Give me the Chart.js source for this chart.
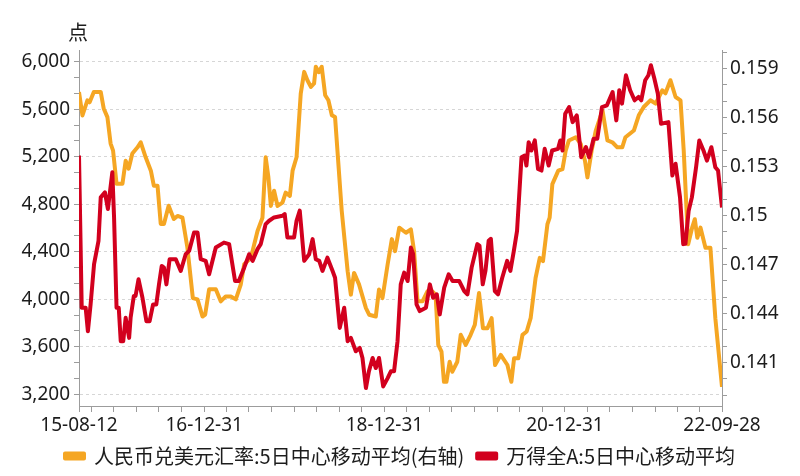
<!DOCTYPE html>
<html>
<head>
<meta charset="utf-8">
<script src="https://cdn.jsdelivr.net/npm/chart.js@4.4.1/dist/chart.umd.min.js"></script>
<style>
  html, body { margin: 0; padding: 0; background: #ffffff; }
  #wrap { width: 800px; height: 476px; }
</style>
</head>
<body>
<div id="wrap"><canvas id="c" width="800" height="476"></canvas></div>
<script>
// ---------------- DATA ----------------
const seriesNames = ['人民币兑美元汇率:5日中心移动平均(右轴)', '万得全A:5日中心移动平均'];
const unitLabel = '点';

const cnyDates = ['2015-08-12','2015-08-26','2015-09-15','2015-09-24','2015-10-11','2015-11-08','2015-11-20','2015-12-05','2015-12-18','2015-12-28',
'2016-01-11','2016-02-04','2016-02-17','2016-02-29','2016-03-15','2016-04-05','2016-04-18','2016-05-08','2016-05-29','2016-06-10',
'2016-06-25','2016-07-08','2016-07-21','2016-08-09','2016-08-30','2016-09-14','2016-10-04','2016-10-24','2016-11-15','2016-12-04',
'2016-12-24','2017-01-04','2017-01-20','2017-02-16','2017-03-08','2017-03-28','2017-04-18','2017-05-08','2017-05-28','2017-06-11',
'2017-07-08','2017-08-04','2017-08-24','2017-09-06','2017-09-17','2017-09-27','2017-10-10','2017-10-24','2017-11-13','2017-11-26',
'2017-12-13','2017-12-24','2018-01-09','2018-01-26','2018-02-09','2018-02-22','2018-03-08','2018-03-21','2018-03-28','2018-04-09',
'2018-04-21','2018-05-05','2018-05-18','2018-06-01','2018-06-14','2018-07-11','2018-08-04','2018-08-17','2018-08-30','2018-09-19',
'2018-10-17','2018-10-30','2018-11-26','2018-12-09','2018-12-23','2019-01-13','2019-01-30','2019-02-12','2019-03-01','2019-03-28',
'2019-04-17','2019-04-30','2019-05-14','2019-06-03','2019-06-23','2019-07-13','2019-07-26','2019-08-06','2019-08-19','2019-08-29',
'2019-09-08','2019-09-21','2019-10-02','2019-10-22','2019-11-05','2019-11-25','2019-12-15','2020-01-01','2020-01-18','2020-02-03',
'2020-02-21','2020-03-09','2020-03-23','2020-04-15','2020-05-12','2020-05-28','2020-06-08','2020-06-25','2020-07-12','2020-07-29',
'2020-08-14','2020-09-03','2020-09-20','2020-10-03','2020-10-21','2020-10-30','2020-11-10','2020-12-04','2020-12-21','2021-01-03',
'2021-01-16','2021-02-13','2021-03-05','2021-03-22','2021-04-01','2021-04-18','2021-05-05','2021-06-01','2021-06-21','2021-07-11',
'2021-07-31','2021-08-20','2021-09-02','2021-10-06','2021-10-26','2021-11-15','2021-12-12','2022-01-02','2022-01-29','2022-02-11',
'2022-03-03','2022-03-24','2022-04-13','2022-04-26','2022-05-14','2022-05-30','2022-06-10','2022-06-20','2022-07-03','2022-07-23',
'2022-08-12','2022-09-01','2022-09-28'];
const cnyValues = [0.15756,0.15612,0.15705,0.15693,0.15756,0.15756,0.15655,0.15602,0.1544,0.15397,
0.15194,0.15194,0.15335,0.15286,0.15379,0.15417,0.15448,0.15356,0.15274,0.15182,
0.15182,0.14948,0.14948,0.15059,0.14978,0.14997,0.14986,0.14802,0.14494,0.14486,
0.14381,0.14393,0.14548,0.14548,0.14474,0.14504,0.14504,0.14486,0.14576,0.14701,
0.1474,0.14905,0.14986,0.15356,0.15233,0.15058,0.15151,0.15058,0.15079,0.1514,
0.1512,0.15274,0.15356,0.15746,0.15879,0.15828,0.15787,0.15808,0.1591,0.15877,
0.1591,0.15736,0.15705,0.15613,0.15602,0.15028,0.14658,0.14515,0.14648,0.14578,
0.14432,0.14392,0.14381,0.14546,0.14494,0.14701,0.14855,0.14781,0.14925,0.14894,
0.14915,0.14781,0.14474,0.14474,0.14535,0.14535,0.14515,0.14207,0.14166,0.13981,
0.13981,0.14104,0.14043,0.14104,0.14269,0.14207,0.14269,0.1433,0.14525,0.14309,
0.14309,0.14371,0.14084,0.14146,0.14084,0.13981,0.14125,0.14125,0.14269,0.14289,
0.14371,0.14617,0.1474,0.1472,0.14946,0.14986,0.15192,0.15274,0.15284,0.15397,
0.15459,0.15479,0.15438,0.15335,0.15233,0.15397,0.1552,0.15643,0.15459,0.15448,
0.15417,0.15417,0.15479,0.1552,0.15613,0.15664,0.15705,0.15685,0.15766,0.15748,
0.15828,0.15725,0.15705,0.15397,0.14823,0.14925,0.14977,0.14863,0.14925,0.14802,
0.14802,0.14371,0.1395];

const windDates = ['2015-08-12','2015-08-23','2015-09-08','2015-09-17','2015-09-28','2015-10-12','2015-10-30','2015-11-08','2015-11-25','2015-12-07',
'2015-12-16','2015-12-25','2016-01-01','2016-01-11','2016-01-20','2016-01-28','2016-02-07','2016-02-17','2016-03-02','2016-03-08',
'2016-03-21','2016-03-28','2016-04-09','2016-04-25','2016-05-11','2016-05-24','2016-06-07','2016-06-20','2016-07-01','2016-07-12',
'2016-07-21','2016-07-31','2016-08-13','2016-09-07','2016-09-27','2016-10-17','2016-10-31','2016-11-20','2016-12-04','2016-12-17',
'2017-01-06','2017-01-20','2017-02-16','2017-03-21','2017-04-11','2017-05-05','2017-05-20','2017-06-11','2017-07-01','2017-07-15',
'2017-08-04','2017-08-17','2017-09-06','2017-09-20','2017-10-10','2017-11-13','2017-11-22','2017-12-03','2017-12-30','2018-01-09',
'2018-01-22','2018-02-09','2018-03-01','2018-03-15','2018-03-28','2018-04-11','2018-04-24','2018-05-14','2018-06-04','2018-06-14',
'2018-07-03','2018-07-21','2018-08-04','2018-08-17','2018-09-06','2018-09-22','2018-10-03','2018-10-17','2018-10-29','2018-11-13',
'2018-11-26','2018-12-09','2018-12-26','2019-01-13','2019-01-26','2019-02-08','2019-02-22','2019-03-07','2019-03-21','2019-04-04',
'2019-04-17','2019-04-26','2019-05-10','2019-05-23','2019-06-17','2019-07-03','2019-07-16','2019-07-31','2019-08-12','2019-08-30',
'2019-09-17','2019-10-03','2019-10-30','2019-11-19','2019-12-02','2019-12-19','2020-01-11','2020-01-20','2020-02-02','2020-02-13',
'2020-02-26','2020-03-06','2020-03-22','2020-04-04','2020-04-21','2020-05-11','2020-05-24','2020-06-07','2020-06-20','2020-07-08',
'2020-07-21','2020-07-28','2020-08-06','2020-08-17','2020-08-31','2020-09-13','2020-09-27','2020-10-10','2020-10-26','2020-11-09',
'2020-12-03','2020-12-12','2020-12-21','2021-01-01','2021-01-17','2021-01-31','2021-02-17','2021-03-07','2021-03-26','2021-04-08',
'2021-04-26','2021-05-11','2021-05-30','2021-06-19','2021-07-12','2021-07-27','2021-08-08','2021-08-19','2021-09-04','2021-09-21',
'2021-10-09','2021-10-25','2021-11-05','2021-11-21','2021-12-04','2021-12-14','2021-12-28','2022-01-11','2022-01-24','2022-02-23',
'2022-03-11','2022-03-24','2022-04-11','2022-04-24','2022-05-03','2022-05-16','2022-05-29','2022-06-15','2022-06-28','2022-07-15',
'2022-07-29','2022-08-16','2022-09-01','2022-09-12','2022-09-28'];
const windValues = [5211,3928,3928,3730,3956,4295,4492,4858,4900,4760,
4915,5070,4689,3928,3928,3646,3646,3843,3674,3843,
4027,4027,4168,4012,3815,3815,3956,3956,4125,4280,
4266,4125,4337,4337,4238,4379,4407,4562,4562,4337,
4323,4210,4435,4477,4464,4153,4153,4266,4379,4323,
4422,4464,4633,4661,4689,4703,4718,4520,4520,4661,
4746,4323,4379,4506,4337,4323,4238,4350,4238,4181,
3758,3928,3646,3674,3561,3589,3505,3251,3392,3505,
3420,3505,3265,3335,3392,3392,3646,4125,4224,4153,
4435,4382,3956,3900,3928,4125,4012,4041,3872,4097,
4210,4153,4153,4069,4041,4266,4464,4449,4125,4238,
4492,4509,4069,4041,4181,4323,4238,4407,4576,5196,
5211,5126,5323,5253,5338,5098,5084,5267,5126,5253,
5267,5338,5253,5563,5619,5492,5549,5196,5281,5196,
5352,5352,5619,5634,5746,5507,5761,5648,5887,5761,
5676,5704,5676,5845,5887,5972,5860,5733,5479,5492,
5042,5141,4858,4464,4467,4746,4858,5112,5338,5253,
5168,5281,5112,5084,4773];

const xLabelDates = ['2015-08-12','2016-12-31','2018-12-31','2020-12-31','2022-09-28'];
const leftTickLabels = [3200, 3600, 4000, 4400, 4800, 5200, 5600, 6000];
const rightTickLabels = [0.141, 0.144, 0.147, 0.150, 0.153, 0.156, 0.159];

// ---------------- HELPERS ----------------
const startDate = xLabelDates[0];
const endDate = xLabelDates[xLabelDates.length - 1];
function dayIndex(d) { return Math.round((Date.parse(d) - Date.parse(startDate)) / 86400000); }
function fmtShort(d) { return d.slice(2); }
const xEnd = dayIndex(endDate);
const xLabelMap = {};
xLabelDates.forEach(d => { xLabelMap[dayIndex(d)] = fmtShort(d); });
// quarter-end tick positions
const xTicks = [0];
for (let y = 2015; y <= 2022; y++) {
  ['03-31', '06-30', '09-30', '12-31'].forEach(md => {
    const v = dayIndex(y + '-' + md);
    if (v > 0 && v < xEnd) xTicks.push(v);
  });
}
xTicks.push(xEnd);

// left axis: major every 400, minor thirds
const leftStep = 400;
const leftTicks = [];
for (let i = 0; i < leftTickLabels.length; i++) {
  const v = leftTickLabels[i];
  leftTicks.push({ value: v, major: true });
  if (i < leftTickLabels.length - 1) {
    leftTicks.push({ value: v + leftStep / 3, major: false });
    leftTicks.push({ value: v + 2 * leftStep / 3, major: false });
  }
}
// right axis: every 0.001, labels every 0.003
const rightTicks = [];
for (let k = 139; k <= 160; k++) rightTicks.push({ value: k / 1000 });
const rightLabelSet = new Set(rightTickLabels.map(v => Math.round(v * 1000)));

const cnyData = cnyDates.map((d, i) => ({ x: dayIndex(d), y: cnyValues[i] }));
const windData = windDates.map((d, i) => ({ x: dayIndex(d), y: windValues[i] }));

const AXIS = '#9c9c9c';
const TXT = '#1c1c1c';
const FONT = '"Noto Sans", "Noto Sans CJK SC", sans-serif';

const unitPlugin = {
  id: 'unitLabel',
  afterDraw(chart) {
    const ctx = chart.ctx;
    const a = chart.chartArea;
    ctx.save();
    ctx.font = '20px "Noto Sans CJK SC", sans-serif';
    ctx.fillStyle = TXT;
    ctx.textAlign = 'center';
    ctx.textBaseline = 'middle';
    ctx.fillText(unitLabel, a.left - 1, a.top - 18);
    ctx.restore();
  }
};

new Chart(document.getElementById('c'), {
  type: 'line',
  data: {
    datasets: [
      { label: seriesNames[0], data: cnyData, yAxisID: 'y1', borderColor: '#F5A623', backgroundColor: '#F5A623',
        borderWidth: 4, pointRadius: 0, tension: 0, order: 1, borderJoinStyle: 'round' },
      { label: seriesNames[1], data: windData, yAxisID: 'y', borderColor: '#D2001E', backgroundColor: '#D2001E',
        borderWidth: 4, pointRadius: 0, tension: 0, order: 0, borderJoinStyle: 'round' }
    ]
  },
  options: {
    responsive: false,
    animation: false,
    events: [],
    layout: { padding: { top: 50, left: 0, right: 0, bottom: 0 } },
    plugins: {
      tooltip: { enabled: false },
      legend: {
        position: 'bottom',
        labels: {
          boxWidth: 19, boxHeight: 5, padding: 13, color: TXT,
          font: { size: 20, family: '"Noto Sans CJK SC", sans-serif', lineHeight: 1 },
          sort: (a, b) => a.datasetIndex - b.datasetIndex
        }
      }
    },
    scales: {
      x: {
        type: 'linear', min: 0, max: xEnd,
        afterBuildTicks: s => { s.ticks = xTicks.map(v => ({ value: v })); },
        afterFit: s => { s.height = 27; },
        ticks: { autoSkip: false, maxRotation: 0, padding: 2, color: TXT, font: { size: 19, family: FONT },
          callback: v => xLabelMap[v] || '' },
        grid: { drawOnChartArea: false, drawTicks: true, tickLength: 6, tickColor: AXIS },
        border: { color: AXIS, width: 1 }
      },
      y: {
        position: 'left', min: 3100, max: 6100,
        afterBuildTicks: s => { s.ticks = leftTicks.map(t => ({ value: t.value, major: t.major })); },
        afterFit: s => { s.width = 79; },
        ticks: { autoSkip: false, padding: 4, color: TXT, font: { size: 19, family: FONT },
          callback: (v, i, ticks) => (ticks[i] && ticks[i].major) ? v.toLocaleString('en-US') : '' },
        grid: {
          color: c => (c.tick && c.tick.major) ? '#d6d6d6' : 'rgba(0,0,0,0)',
          tickColor: AXIS, tickLength: 5, lineWidth: 1
        },
        border: { color: AXIS, width: 1, dash: [3, 3] }
      },
      y1: {
        position: 'right', min: 0.13833, max: 0.16013,
        afterBuildTicks: s => { s.ticks = rightTicks.map(t => ({ value: t.value })); },
        afterFit: s => { s.width = 78; },
        ticks: { autoSkip: false, padding: 3, color: TXT, font: { size: 19, family: FONT },
          callback: v => rightLabelSet.has(Math.round(v * 1000)) ? String(Number(v.toFixed(3))) : '' },
        grid: { drawOnChartArea: false, tickColor: AXIS, tickLength: 5 },
        border: { color: AXIS, width: 1 }
      }
    }
  },
  plugins: [unitPlugin]
});
</script>
</body>
</html>
